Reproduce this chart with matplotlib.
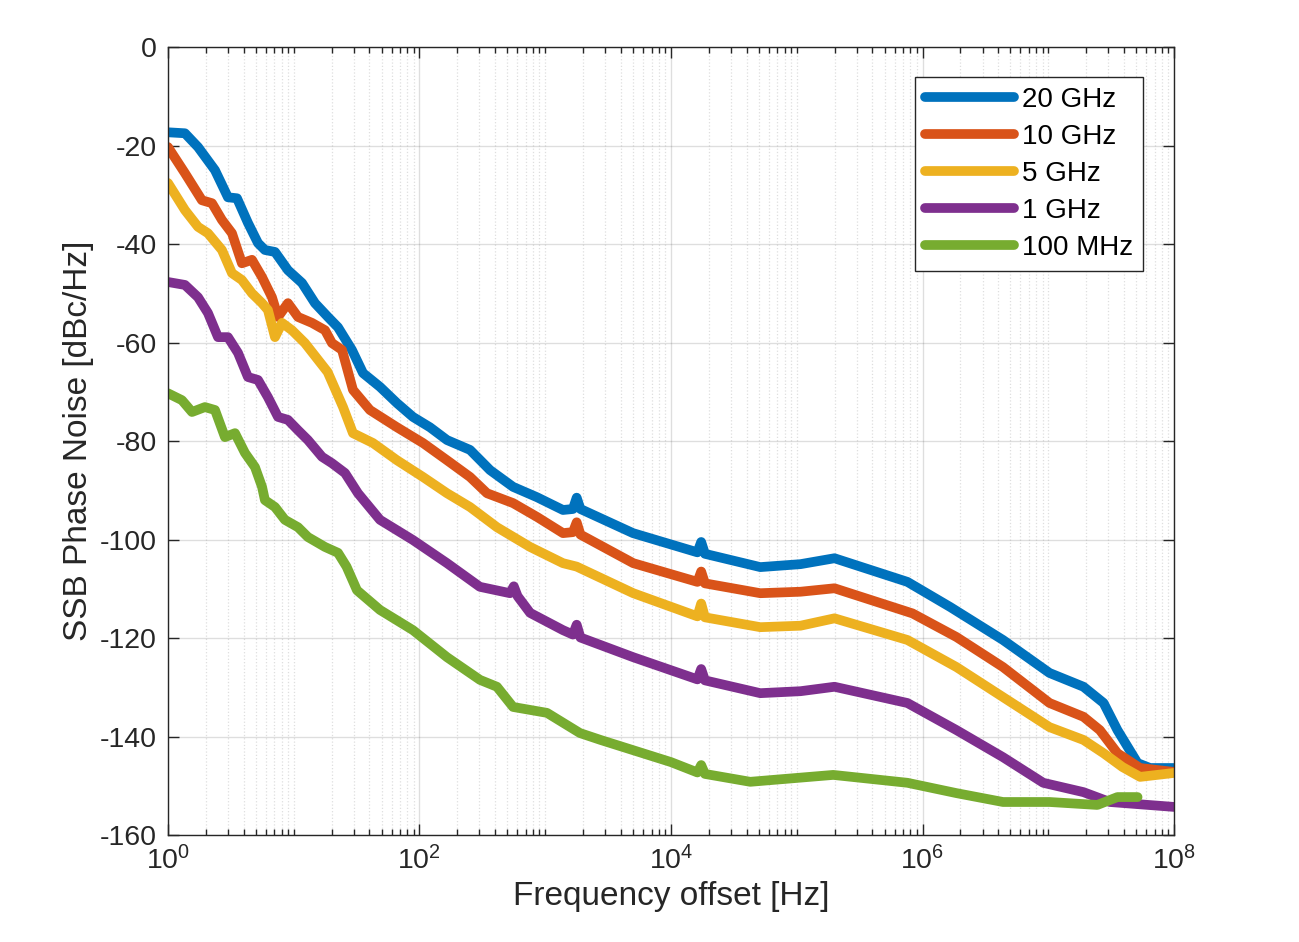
import matplotlib.pyplot as plt
from matplotlib.ticker import LogLocator, LogFormatterMathtext, NullFormatter
import numpy as np

plt.rcParams['font.family'] = ['Liberation Sans', 'DejaVu Sans']
plt.rcParams['mathtext.default'] = 'regular'
plt.rcParams['axes.unicode_minus'] = False

# frequency offsets given as log10(f / Hz), phase noise in dBc/Hz
lf_20g = [0, 0.135, 0.239, 0.374, 0.477, 0.549, 0.636, 0.716, 0.771, 0.851, 0.954, 1.066, 1.169,
          1.272, 1.352, 1.463, 1.551, 1.686, 1.821, 1.948, 2.083, 2.219, 2.402, 2.561, 2.744,
          2.934, 3.141, 3.22, 3.25, 3.28, 3.698, 4.21, 4.24, 4.27, 4.71, 5.03, 5.3, 5.88, 6.22,
          6.64, 7.01, 7.28, 7.44, 7.55, 7.71, 7.81, 8.0]
pn_20g = [-17.3, -17.5, -20.3, -25, -30.5, -30.7, -35.7, -39.8, -41.2, -41.6, -45.3, -47.9, -52,
          -54.8, -56.9, -61.5, -66.2, -69, -72.3, -75.1, -77.2, -79.8, -81.8, -85.9, -89.3,
          -91.4, -94, -93.8, -91.5, -93.8, -98.7, -102.6, -100.5, -102.9, -105.6, -105, -103.8,
          -108.6, -113.7, -120.4, -127.1, -129.9, -133.2, -138.7, -145.4, -146.4, -146.4]

lf_10g = [0, 0.135, 0.27, 0.35, 0.429, 0.509, 0.588, 0.668, 0.748, 0.827, 0.875, 0.954, 1.034,
          1.145, 1.249, 1.304, 1.384, 1.471, 1.606, 1.821, 2.028, 2.219, 2.402, 2.537, 2.744,
          2.934, 3.141, 3.22, 3.25, 3.28, 3.7, 4.21, 4.24, 4.27, 4.71, 5.03, 5.3, 5.92, 6.27,
          6.64, 7.01, 7.28, 7.41, 7.55, 7.73, 8.0]
pn_10g = [-20.3, -25.6, -31.1, -31.7, -35.1, -37.8, -43.9, -43.2, -46.7, -50.8, -54.8, -52,
          -54.8, -56, -57.5, -60.1, -61.5, -69.6, -73.7, -77.2, -80.4, -83.9, -87.3, -90.6,
          -92.6, -95.4, -98.7, -98.5, -96.5, -99, -104.8, -108.6, -106.5, -108.9, -110.9,
          -110.6, -109.9, -115, -119.8, -125.9, -133.2, -136, -138.7, -143.4, -146.4, -147.2]

lf_5g = [0, 0.135, 0.239, 0.318, 0.429, 0.509, 0.588, 0.668, 0.748, 0.795, 0.851, 0.907, 0.986,
         1.089, 1.27, 1.392, 1.471, 1.63, 1.821, 2.028, 2.219, 2.402, 2.616, 2.879, 3.141, 3.25,
         3.7, 4.21, 4.24, 4.27, 4.71, 5.03, 5.3, 5.88, 6.27, 6.64, 7.01, 7.28, 7.44, 7.59, 7.73,
         8.0]
pn_5g = [-27.6, -33.1, -36.5, -37.8, -41.2, -45.9, -47.3, -50, -52, -53.4, -58.9, -56, -57.5,
         -60.1, -66, -73.1, -78.4, -80.4, -83.9, -87.3, -90.6, -93.4, -97.5, -101.5, -104.8,
         -105.5, -110.9, -115.6, -113, -115.8, -117.8, -117.5, -116, -120.4, -125.9, -132,
         -138.1, -140.7, -143.4, -146.2, -148.2, -147.4]

lf_1g = [0, 0.135, 0.239, 0.318, 0.398, 0.477, 0.557, 0.636, 0.716, 0.795, 0.875, 0.954, 1.034,
         1.113, 1.225, 1.304, 1.408, 1.511, 1.686, 1.948, 2.219, 2.48, 2.72, 2.75, 2.78, 2.88,
         3.141, 3.22, 3.25, 3.28, 3.7, 4.21, 4.24, 4.27, 4.71, 5.03, 5.3, 5.88, 6.27, 6.64,
         6.96, 7.28, 7.49, 8.0]
pn_1g = [-47.7, -48.3, -50.8, -54, -58.9, -58.9, -62.1, -67, -67.6, -71.1, -75.1, -75.7, -77.8,
         -79.8, -83.2, -84.5, -86.5, -90.6, -96, -100.1, -104.8, -109.6, -110.9, -109.5,
         -111.5, -114.9, -118.4, -119.3, -117.3, -119.9, -123.9, -128.4, -126.3, -128.6,
         -131.2, -130.8, -129.9, -133.2, -138.7, -144.2, -149.4, -151.3, -153.3, -154.3]

lf_100m = [0, 0.111, 0.191, 0.294, 0.374, 0.453, 0.533, 0.612, 0.692, 0.748, 0.771, 0.851,
           0.93, 1.034, 1.113, 1.248, 1.352, 1.42, 1.503, 1.686, 1.948, 2.219, 2.481, 2.616,
           2.744, 3.014, 3.276, 3.44, 4.0, 4.21, 4.24, 4.27, 4.63, 5.29, 5.88, 6.27, 6.64, 7.01,
           7.39, 7.55, 7.71]
pn_100m = [-70.3, -71.7, -74.1, -73.1, -73.7, -79.2, -78.4, -82.4, -85.3, -89.3, -92, -93.4,
           -96, -97.5, -99.5, -101.5, -102.7, -105.5, -110.3, -114.3, -118.4, -123.9, -128.5,
           -129.9, -134, -135.2, -139.3, -140.7, -145.2, -147.3, -145.8, -147.6, -149.2, -147.8,
           -149.4, -151.5, -153.3, -153.3, -153.9, -152.3, -152.3]

labels = ['20 GHz', '10 GHz', '5 GHz', '1 GHz', '100 MHz']
colors = ['#0072BD', '#D95319', '#EDB120', '#7E2F8E', '#77AC30']
series = [(lf_20g, pn_20g), (lf_10g, pn_10g), (lf_5g, pn_5g), (lf_1g, pn_1g), (lf_100m, pn_100m)]

fig = plt.figure(figsize=(12.99, 9.42), dpi=100)
ax = fig.add_axes([0.1293, 0.1136, 0.7745, 0.8364])

for (lf, pn), c, lab in zip(series, colors, labels):
    ax.plot(10 ** np.array(lf), pn, color=c, lw=7, label=lab,
            solid_joinstyle='round', solid_capstyle='round')

ax.set_xscale('log')
ax.set_xlim(1, 1e8)
ax.set_ylim(-160, 0)
ax.set_xticks([1, 1e2, 1e4, 1e6, 1e8])
ax.xaxis.set_major_formatter(LogFormatterMathtext())
ax.xaxis.set_minor_locator(LogLocator(base=10, subs=np.arange(1, 10), numticks=100))
ax.xaxis.set_minor_formatter(NullFormatter())
ax.set_yticks(np.arange(-160, 1, 20))

ax.grid(True, which='major', color='#262626', alpha=0.15, lw=1.0)
ax.grid(True, which='minor', axis='x', color='#262626', alpha=0.15, lw=0.9, ls=':')
ax.set_axisbelow(True)

ax.tick_params(which='both', direction='in', top=True, right=True, colors='#262626',
               labelsize=20.5, width=1.0)
ax.tick_params(which='major', length=8, pad=8)
ax.tick_params(which='minor', length=4)
for s in ax.spines.values():
    s.set_color('#262626')
    s.set_linewidth(1.0)

ax.set_xlabel('Frequency offset [Hz]', fontsize=24, color='#262626')
ax.set_ylabel('SSB Phase Noise [dBc/Hz]', fontsize=24, color='#262626')

leg = ax.legend(loc='upper right', bbox_to_anchor=(0.969, 0.962), borderaxespad=0,
                fontsize=20, handlelength=3.2, handletextpad=0.3, labelspacing=0.4,
                fancybox=False, framealpha=1, edgecolor='#262626', borderpad=0.35)
leg.get_frame().set_linewidth(1.0)
for ln in leg.get_lines():
    ln.set_linewidth(7)

fig.savefig('out.png', dpi=100)
